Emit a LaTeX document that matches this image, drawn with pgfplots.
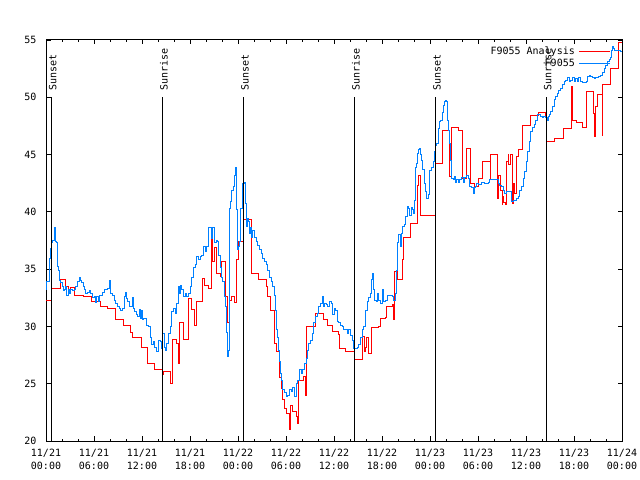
\documentclass[border=0pt]{standalone}
\usepackage{fontspec}
\setmainfont{DejaVu Sans Mono}
\usepackage{pgfplots}
\pgfplotsset{compat=1.18}
\definecolor{anared}{RGB}{255,0,0}
\definecolor{obsblue}{RGB}{0,128,255}
\begin{document}
\fontsize{10bp}{12bp}\selectfont
\begin{tikzpicture}[font=\fontsize{10bp}{12bp}\selectfont]
\useasboundingbox (-46bp,-39bp) rectangle (594bp,441bp);
\begin{axis}[
  at={(0,0)}, anchor=south west,
  scale only axis, width=576bp, height=401bp,
  xmin=0, xmax=72, ymin=20, ymax=55,
  xtick={0,6,...,72},
  minor x tick num=2,
  ytick={20,25,...,55},
  xticklabels={{11/21\\00:00},{11/21\\06:00},{11/21\\12:00},{11/21\\18:00},{11/22\\00:00},{11/22\\06:00},{11/22\\12:00},{11/22\\18:00},{11/23\\00:00},{11/23\\06:00},{11/23\\12:00},{11/23\\18:00},{11/24\\00:00}},
  xticklabel style={align=center, font=\fontsize{10bp}{13bp}\selectfont, yshift=-5bp},
  yticklabel style={xshift=-6bp},
  tick align=inside,
  major tick length=4.5bp, minor tick length=2.2bp,
  every tick/.style={black, line width=0.8bp},
  axis line style={line width=1bp},
  /pgf/number format/assume math mode=true,
  legend plot pos=right,
  legend cell align=right,
  legend image code/.code={\draw[#1] (0bp,0bp) -- (31bp,0bp);},
  legend style={draw=none, fill=none, at={(axis description cs:1,1)}, anchor=north east, xshift=-8bp, yshift=-3bp, row sep=-1.5bp, column sep=2bp, font=\fontsize{10bp}{12bp}\selectfont},
  clip=true,
]
\addplot[const plot, anared, line width=1bp] coordinates {
(0,32.3) (0.67,33.3) (1.75,34.1) (2.46,33.5) (2.75,32.9) (3.0,33.4) (3.58,32.7) (4.67,32.6) (5.67,32.2) (6.75,31.7) (7.67,31.6) (8.7,30.6) (9.67,30.1) (10.6,29.5) (10.8,29.0) (11.9,28.2)
(12.67,26.8) (13.6,26.25) (14.5,26.1) (14.55,25.8) (14.7,26.1) (15.5,25.0) (15.8,28.9) (16.3,28.5) (16.5,26.8) (16.67,30.3) (17.2,28.9) (17.8,32.45) (18.2,31.5) (18.5,30.1) (18.75,32.2) (19.6,34.2) (19.8,33.6) (20.3,33.3) (20.7,37.7) (20.85,35.7) (21.0,36.9) (21.25,34.6) (21.75,34.4) (21.96,35.7) (22.4,32.6) (22.67,30.3) (22.9,32.3) (23.2,32.6) (23.6,32.1) (23.83,35.8)
(24.0,37.4) (24.67,39.3) (25.7,34.6) (26.6,34.1) (27.5,33.5) (27.7,32.6) (28.0,31.4) (28.6,28.5) (28.8,27.8) (29.2,25.5) (29.4,24.6) (29.6,23.6) (29.8,22.8) (30.0,22.4) (30.4,21.0) (30.6,23.1) (30.8,22.6) (31.25,22.1) (31.4,21.5) (31.6,25.3) (32.2,25.6) (32.4,24.0) (32.6,30.0) (33.7,31.1) (34.67,30.6) (35.2,30.1) (35.8,29.6)
(36.5,29.3) (36.7,28.1) (37.4,27.8) (38.6,27.1) (39.6,29.1) (39.75,27.8) (39.9,28.2) (40.1,29.0) (40.3,27.6) (40.67,29.9) (41.6,30.0) (41.8,30.7) (42.4,30.8) (42.6,31.7) (43.3,31.9) (43.45,30.6) (43.6,34.8) (43.9,34.1) (44.55,35.8) (44.7,37.8) (45.6,39.0) (46.4,42.3) (46.55,43.2) (46.8,39.7)
(48.67,44.2) (49.5,46.1) (49.6,47.1) (50.4,43.1) (50.7,47.4) (51.6,47.1) (52.0,45.1) (52.1,42.9) (52.6,45.5) (53.0,42.5) (53.5,42.2) (54.1,42.9) (54.6,44.4) (55.5,42.8) (55.6,45.0) (56.4,41.2) (56.5,42.5) (56.6,43.2) (56.8,41.9) (57.0,40.6) (57.1,41.3) (57.2,40.8) (57.4,40.6) (57.5,43.1) (57.6,44.4) (57.75,45.0) (57.85,44.1) (58.1,45.0) (58.3,40.7) (58.4,42.5) (58.5,41.6) (58.8,44.8) (59.0,45.4) (59.6,47.5)
(60.6,48.4) (61.5,48.7) (62.4,48.2) (62.5,45.0) (62.6,46.1) (63.6,46.4) (64.67,47.3) (65.65,50.9) (65.8,48.0) (66.3,47.8) (67.0,47.4) (67.55,50.5) (68.4,48.6) (68.55,46.6) (68.7,49.2) (68.9,50.2) (69.5,46.7) (69.6,51.1) (70.5,52.5) (71.5,54.8) (72,54.8)
};
\addlegendentry{F9055 Analysis}
\addplot[const plot, obsblue, line width=1bp] coordinates {
(0.0,33.2) (0.1,33.9) (0.375,35.9) (0.5,36.8) (0.67,37.3) (0.8,37.5) (1.0,38.6) (1.13,38.4) (1.21,37.4) (1.33,37.3) (1.42,35.2) (1.54,34.9) (1.71,34.05) (1.83,33.8) (2.04,33.5) (2.17,33.1) (2.33,33.2) (2.46,33.5) (2.58,32.7) (2.75,33.2) (2.92,32.9) (3.08,33.2) (3.29,33.1) (3.5,33.2) (3.71,33.5) (3.92,33.9) (4.13,34.3) (4.25,34.05) (4.42,33.8) (4.63,33.5) (4.75,33.2) (4.96,32.9) (5.17,33.0) (5.375,33.1) (5.58,32.9) (5.79,32.5)
(6.0,32.6) (6.21,32.1) (6.33,32.6) (6.5,32.2) (6.67,32.7) (6.83,32.7) (7.04,33.0) (7.25,33.2) (7.46,33.2) (7.67,33.3) (7.875,34.05) (8.08,32.9) (8.29,32.7) (8.5,32.3) (8.71,32.0) (8.92,31.7) (9.13,31.6) (9.33,31.4) (9.54,31.6) (9.75,32.6) (9.875,33.0) (10.0,32.4) (10.17,32.2) (10.38,31.7) (10.58,31.7) (10.79,32.5) (10.92,31.6) (11.08,31.3) (11.25,31.0) (11.42,30.9) (11.63,31.5) (11.75,30.7) (11.92,31.4)
(12.08,30.6) (12.2,30.7) (12.5,30.7) (12.58,30.1) (12.8,30.0) (13.0,29.0) (13.2,28.4) (13.4,28.7) (13.6,28.2) (13.83,27.8) (14.04,28.8) (14.25,28.7) (14.46,28.1) (14.58,29.4) (14.75,28.2) (14.875,27.9) (15.08,28.5) (15.29,29.4) (15.5,30.0) (15.71,31.3) (15.92,31.6) (16.13,31.1) (16.33,32.0) (16.54,33.5) (16.67,32.9) (16.83,33.6) (16.96,33.2) (17.17,32.6) (17.375,32.9) (17.58,32.6) (17.79,32.9)
(18.0,33.5) (18.21,34.3) (18.42,35.1) (18.625,35.4) (18.83,36.1) (19.04,35.8) (19.25,36.1) (19.46,36.2) (19.67,37.0) (19.875,36.5) (20.08,37.0) (20.29,38.6) (20.5,38.6) (20.71,37.7) (20.83,38.6) (21.0,37.3) (21.25,37.5) (21.42,37.4) (21.58,36.2) (21.75,35.1) (21.96,34.3) (22.08,33.9) (22.25,32.6) (22.375,31.7) (22.5,31.0) (22.58,29.5) (22.67,27.4) (22.79,27.9) (22.92,40.3) (23.08,40.9) (23.2,41.9) (23.42,42.2) (23.54,43.2) (23.67,43.9) (23.83,40.2) (23.96,36.7)
(24.08,37.0) (24.2,37.4) (24.37,40.3) (24.58,42.5) (24.8,42.6) (24.92,40.7) (25.0,38.7) (25.13,39.4) (25.25,39.2) (25.42,38.1) (25.54,38.6) (25.67,37.8) (25.83,38.4) (26.0,37.8) (26.25,37.4) (26.46,37.1) (26.67,36.7) (26.875,36.4) (27.08,35.9) (27.29,35.7) (27.5,35.4) (27.71,34.9) (27.92,34.3) (28.125,33.9) (28.33,33.5) (28.54,32.7) (28.67,31.4) (28.75,29.7) (28.875,29.0) (29.0,27.9) (29.17,26.9) (29.29,25.9) (29.375,25.3) (29.58,24.5) (29.79,24.2)
(30.0,23.9) (30.21,24.0) (30.42,24.5) (30.625,24.3) (30.83,24.7) (31.04,23.9) (31.25,25.0) (31.46,25.3) (31.67,26.2) (31.875,25.9) (32.08,26.2) (32.29,26.8) (32.5,27.2) (32.625,27.9) (32.83,28.5) (33.0,28.8) (33.25,29.4) (33.46,30.3) (33.67,30.9) (33.875,31.1) (34.08,31.7) (34.29,32.0) (34.5,32.6) (34.67,31.7) (34.83,32.0) (35.0,31.9) (35.2,31.7) (35.42,32.2) (35.625,32.0) (35.83,31.0)
(36.0,31.6) (36.17,31.4) (36.375,30.4) (36.58,30.3) (36.79,30.1) (37.0,30.0) (37.2,29.7) (37.42,29.7) (37.625,29.4) (37.83,29.7) (38.04,29.2) (38.25,28.8) (38.46,28.1) (38.67,28.1) (38.875,28.2) (39.08,28.4) (39.29,29.0) (39.5,29.7) (39.71,30.0) (39.92,31.4) (40.125,32.2) (40.33,32.5) (40.54,32.9) (40.67,34.1) (40.79,34.6) (40.92,33.2) (41.08,32.3) (41.25,32.2) (41.42,32.9) (41.58,32.3) (41.79,32.0)
(42.0,33.2) (42.21,32.2) (42.42,32.3) (42.625,32.7) (42.83,32.7) (43.04,32.7) (43.25,32.6) (43.46,32.3) (43.67,32.9) (43.79,34.9) (43.96,37.3) (44.08,38.0) (44.29,37.0) (44.42,38.1) (44.58,38.7) (44.75,38.9) (44.92,39.6) (45.125,40.5) (45.33,40.3) (45.46,39.7) (45.625,40.4) (45.75,40.2) (45.875,39.9) (46.04,41.0) (46.17,43.9) (46.29,44.2) (46.42,45.1) (46.5,45.4) (46.67,45.5) (46.79,45.0) (46.92,44.5) (47.08,43.7) (47.25,42.5) (47.42,41.8) (47.58,41.2) (47.75,41.5) (47.875,43.6)
(48.0,43.6) (48.17,43.9) (48.375,44.4) (48.5,44.5) (48.58,45.3) (48.71,45.8) (48.83,46.0) (49.0,47.3) (49.21,47.9) (49.33,48.0) (49.5,48.7) (49.625,49.3) (49.75,49.6) (49.92,49.7) (50.04,49.6) (50.125,48.0) (50.25,47.1) (50.375,46.0) (50.5,44.5) (50.67,42.9) (50.875,42.8) (51.0,43.1) (51.17,42.6) (51.33,42.8) (51.5,42.6) (51.71,42.8) (51.92,43.0) (52.125,42.6) (52.33,43.0) (52.54,43.2) (52.75,42.9) (52.96,42.2) (53.17,42.1) (53.375,41.6) (53.5,42.1) (53.67,42.2) (53.83,42.5)
(54.0,42.4) (54.42,42.6) (54.83,42.5) (55.25,42.6) (55.46,42.8) (55.67,42.8) (55.875,42.8) (56.08,42.8) (56.3,42.8) (56.5,42.5) (56.71,42.3) (56.92,42.2) (57.125,41.9) (57.33,41.6) (57.54,41.8) (57.75,41.8) (57.96,41.8) (58.17,40.9) (58.375,41.0) (58.58,41.0) (58.79,41.2) (59.0,41.3) (59.2,41.9) (59.42,42.2) (59.625,42.9) (59.83,43.5)
(60.04,44.4) (60.2,45.3) (60.4,46.1) (60.6,47.0) (60.8,47.4) (61.0,47.6) (61.2,48.0) (61.4,48.5) (61.6,48.5) (61.8,48.3) (62.0,48.2) (62.2,48.3) (62.45,48.2) (62.67,48.0) (62.75,48.3) (62.9,48.5) (63.1,48.8) (63.3,49.2) (63.5,49.8) (63.7,50.1) (63.9,50.3) (64.1,50.6) (64.3,50.8) (64.5,51.1) (64.75,51.4) (64.95,51.5) (65.2,51.7) (65.4,51.4) (65.6,51.5) (65.8,51.7)
(66.0,51.4) (66.2,51.6) (66.4,51.4) (66.6,51.7) (66.8,51.4) (67.0,51.3) (67.25,51.3) (67.5,51.4) (67.7,51.8) (67.9,51.9) (68.1,51.8) (68.3,51.7) (68.5,51.6) (68.7,51.7) (68.9,51.7) (69.1,51.8) (69.3,51.9) (69.55,52.2) (69.75,52.5) (69.95,52.8) (70.15,53.1) (70.4,53.3) (70.6,53.5) (70.7,54.1) (70.8,54.4) (70.95,54.3) (71.1,54.1) (71.4,54.1) (71.6,54.1) (71.8,54.0) (72.0,54.0)
};
\addlegendentry{F9055}
\addplot[black, line width=1bp, forget plot] coordinates {(0.66,20) (0.66,50)};
\addplot[black, line width=1bp, forget plot] coordinates {(14.54,20) (14.54,50)};
\addplot[black, line width=1bp, forget plot] coordinates {(24.67,20) (24.67,50)};
\addplot[black, line width=1bp, forget plot] coordinates {(38.54,20) (38.54,50)};
\addplot[black, line width=1bp, forget plot] coordinates {(48.67,20) (48.67,50)};
\addplot[black, line width=1bp, forget plot] coordinates {(62.5,20) (62.5,50)};
\node[rotate=90, anchor=west, inner sep=0pt] at (axis cs:0.85,50.6) {Sunset};
\node[rotate=90, anchor=west, inner sep=0pt] at (axis cs:14.73,50.6) {Sunrise};
\node[rotate=90, anchor=west, inner sep=0pt] at (axis cs:24.86,50.6) {Sunset};
\node[rotate=90, anchor=west, inner sep=0pt] at (axis cs:38.73,50.6) {Sunrise};
\node[rotate=90, anchor=west, inner sep=0pt] at (axis cs:48.86,50.6) {Sunset};
\node[rotate=90, anchor=west, inner sep=0pt] at (axis cs:62.69,50.6) {Sunrise};
\node at (axis description cs:0.4757,1.0499) {Dew Point for F9055 on 2024-Nov-21 (time in UTC)};
\node[rotate=90] at (axis description cs:-0.0625,0.4988) {degrees F};
\end{axis}
\end{tikzpicture}
\end{document}
